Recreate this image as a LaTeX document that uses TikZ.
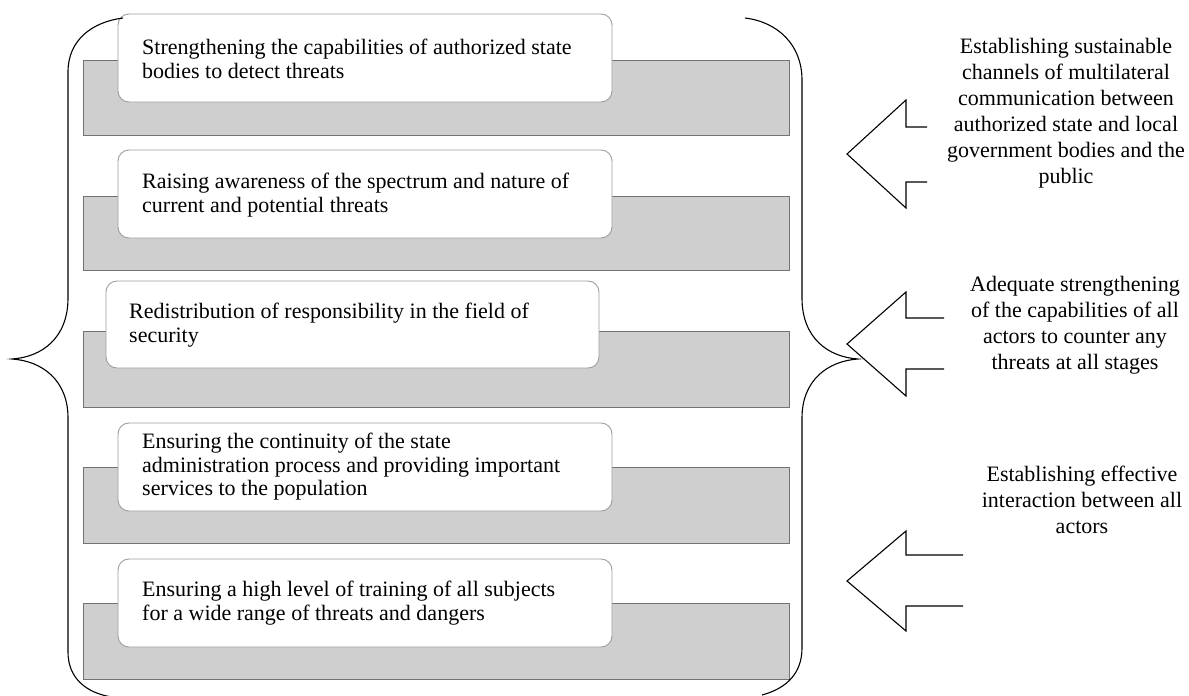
\documentclass[tikz,border=0pt]{standalone}
\usepackage{fontspec}
\setmainfont{Liberation Serif}
\begin{document}
\begin{tikzpicture}[x=1pt,y=-1pt,
  graybar/.style={draw=black!55,fill=black!19,line width=0.9pt},
  whitebox/.style={draw=black!38,fill=white,line width=0.9pt,rounded corners=11pt},
  boxtext/.style={anchor=west,align=left,inner sep=0pt,font=\fontsize{22}{23.5}\selectfont},
  sidetext/.style={align=center,inner sep=0pt,font=\fontsize{22}{26}\selectfont},
  brace/.style={draw=black,line width=1.1pt},
  blockarrow/.style={draw=black,line width=1.1pt}]
\useasboundingbox (0,0) rectangle (1189,696);
% gray bars
\fill[graybar] (83,60) rectangle (789,135);
\fill[graybar] (83,196) rectangle (789,270);
\fill[graybar] (83,331) rectangle (789,407);
\fill[graybar] (83,467) rectangle (789,543);
\fill[graybar] (83,603) rectangle (789,679);
% white boxes
\draw[whitebox] (118,14) rectangle (612,102);
\draw[whitebox] (118,150) rectangle (612,238);
\draw[whitebox] (106,281) rectangle (599,368);
\draw[whitebox] (118,423) rectangle (612,511);
\draw[whitebox] (118,559) rectangle (612,647);
% texts
\node[boxtext] (t1) at (142,59) {Strengthening the capabilities of authorized state\\bodies to detect threats};
\node[boxtext] (t2) at (142,195) {Raising awareness of the spectrum and nature of\\current and potential threats};
\node[boxtext] (t3) at (129,325) {Redistribution of responsibility in the field of\\security};
\node[boxtext] (t4) at (142,467) {Ensuring the continuity of the state\\administration process and providing important\\services to the population};
\node[boxtext] (t5) at (142,603) {Ensuring a high level of training of all subjects\\for a wide range of threats and dangers};
% braces
\draw[brace] (123,18) .. controls (92,22) and (68,40) .. (68,72) -- (68,298)
  .. controls (68,338) and (42,357) .. (12,359)
  .. controls (42,361) and (68,380) .. (68,418) -- (68,652)
  .. controls (68,678) and (86,693) .. (112,697);
\draw[brace] (745,18) .. controls (778,22) and (802,45) .. (802,80) -- (802,298)
  .. controls (802,338) and (828,357) .. (858,359)
  .. controls (828,361) and (802,380) .. (802,418) -- (802,648)
  .. controls (802,672) and (788,688) .. (762,695);
% block arrows
\coordinate (a1) at (847,154);
\coordinate (a2) at (847,344);
\coordinate (a3) at (847,581);
\draw[blockarrow] (927,127) -- (906,127) -- (906,100) -- (a1) -- (906,208) -- (906,182) -- (927,182);
\draw[blockarrow] (944,318) -- (906,318) -- (906,292) -- (a2) -- (906,396) -- (906,369) -- (944,369);
\draw[blockarrow] (963,555) -- (906,555) -- (906,531) -- (a3) -- (906,631) -- (906,606) -- (963,606);
% side texts
\node[sidetext] (s1) at (1066,113) {Establishing sustainable\\channels of multilateral\\communication between\\authorized state and local\\government bodies and the\\public};
\node[sidetext] (s2) at (1075,325) {Adequate strengthening\\of the capabilities of all\\actors to counter any\\threats at all stages};
\node[sidetext] (s3) at (1082,500) {Establishing effective\\interaction between all\\actors};
\end{tikzpicture}
\end{document}
